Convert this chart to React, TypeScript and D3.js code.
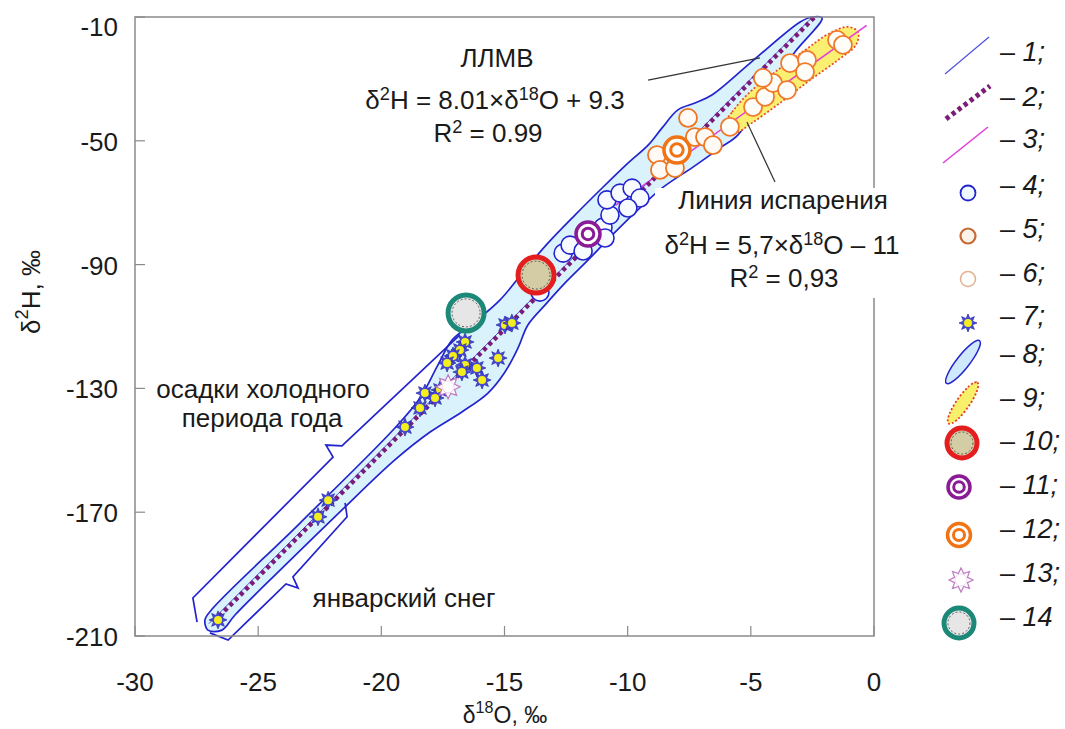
import React from "react";
import * as d3 from "d3";

// axis ticks
const xTicks = [-30, -25, -20, -15, -10, -5, 0];
const yTicks = [-10, -50, -90, -130, -170, -210];

// 4 - blue circles [δ18O, δ2H]
const series4 = [
  [-13.56, -98.9], [-12.62, -86.3], [-12.34, -83.7], [-11.81, -85.6], [-11.0, -77.9],
  [-10.92, -81.4], [-10.72, -74.0], [-10.84, -69.1], [-10.31, -66.9], [-9.82, -65.3],
  [-9.5, -68.5], [-9.99, -71.7],
];
// 5 - orange circles (lower cluster)
const series5 = [
  [-7.55, -42.6], [-8.81, -54.6], [-8.69, -59.4], [-8.08, -58.8], [-7.27, -48.8],
  [-6.86, -48.8], [-6.54, -51.4],
];
// 6 - pale orange circles (evaporated)
const series6 = [
  [-5.85, -45.5], [-4.91, -39.1], [-4.42, -35.8], [-4.1, -31.3], [-4.51, -29.7],
  [-3.53, -33.6], [-3.41, -24.9], [-2.72, -23.9], [-2.8, -27.8], [-1.5, -17.4], [-1.26, -19.0],
];
// 7 - stars (winter precipitation)
const series7 = [
  [-14.98, -109.5], [-14.7, -108.9], [-16.6, -115.0], [-16.81, -117.6], [-17.09, -119.5],
  [-17.33, -121.8], [-16.6, -122.4], [-16.12, -123.4], [-16.73, -124.7], [-15.26, -120.2],
  [-15.91, -127.3], [-17.62, -130.5], [-18.23, -131.5], [-17.82, -133.1], [-18.43, -136.3],
  [-19.04, -142.5], [-22.16, -166.1], [-22.57, -171.5], [-26.63, -204.8],
];
// single samples 10-14
const point10 = [-13.72, -93.4];
const point11 = [-11.61, -80.1];
const point12 = [-8.0, -53.0];
const point13 = [-17.29, -129.5];
const point14 = [-16.56, -105.6];

// 8 - envelope outline
const envelope8 = [
  [-27.04, -208.1], [-27.16, -204.8], [-26.87, -201.3], [-23.3, -173.5], [-19.45, -142.8],
  [-18.43, -133.1], [-17.7, -122.4], [-17.13, -114.4], [-16.2, -108.5], [-15.18, -101.4],
  [-14.17, -91.7], [-13.23, -83.0], [-12.14, -74.0], [-11.12, -65.9], [-9.99, -57.2],
  [-9.17, -51.4], [-8.61, -45.9], [-7.96, -40.0], [-7.27, -37.8], [-6.58, -35.2],
  [-5.03, -24.9], [-3.0, -11.6], [-2.52, -10.0], [-2.11, -10.3], [-3.21, -21.3],
  [-4.42, -34.2], [-5.52, -48.1], [-6.25, -52.3], [-7.35, -58.5], [-8.61, -65.3],
  [-9.5, -71.7], [-10.51, -79.5], [-11.53, -87.9], [-12.54, -95.9], [-13.36, -103.1],
  [-14.05, -109.5], [-14.45, -116.9], [-14.98, -124.7], [-15.67, -131.5], [-16.73, -137.6],
  [-18.02, -144.1], [-19.45, -153.1], [-21.68, -169.9], [-24.11, -188.7], [-25.94, -203.2],
  [-26.47, -208.1],
];
// 9 - evaporated waters outline
const ellipse9 = [
  [-6.17, -45.9], [-5.76, -40.7], [-5.03, -34.2], [-4.02, -27.8], [-2.8, -20.7],
  [-1.79, -15.2], [-1.06, -13.2], [-0.65, -14.8], [-0.73, -19.0], [-1.46, -23.9],
  [-2.6, -30.4], [-3.82, -37.8], [-4.95, -44.2], [-5.64, -47.5],
];

// brackets and leaders
const bracketCold = [
  [-27.48, -205.5], [-27.65, -197.7], [-21.96, -152.2], [-22.25, -148.3], [-21.6, -148.6], [-16.81, -112.7],
];
const bracketSnow = [
  [-26.96, -209.0], [-26.22, -211.3], [-23.87, -193.2], [-23.38, -194.5], [-23.59, -190.9],
  [-21.39, -171.5], [-21.47, -167.0],
];
const leaderLMWL = [[-9.17, -30.4], [-4.63, -23.2]];
const leaderEvap = [[-5.16, -43.9], [-4.02, -63.3]];

// regression lines: slope, intercept, x range
const gmwl = { a: 8, b: 10, from: -27, to: -2.5 };
const lmwl = { a: 8.01, b: 9.3, from: -26.8, to: -2.41 };
const evap = { a: 5.7, b: -11, from: -10.5, to: -0.3 };

const legendLabels = ["1", "2", "3", "4", "5", "6", "7", "8", "9", "10", "11", "12", "13", "14"];

const F = '"Liberation Sans", Arial, Helvetica, sans-serif';
const BLUE = "#2424cf";
const FS = 27;

const starPath = (n: number, r1: number, r2: number) => {
  const pts = d3.range(2 * n).map((i) => {
    const a = (i * Math.PI) / n - Math.PI / 2;
    const r = i % 2 === 0 ? r1 : r2;
    return [r * Math.cos(a), r * Math.sin(a)] as [number, number];
  });
  return d3.line().curve(d3.curveLinearClosed)(pts) || "";
};

const Circle4 = ({ cx, cy }: any) => (
  <circle cx={cx} cy={cy} r={9} fill="#f7fbff" stroke={BLUE} strokeWidth={1.6} />
);
const Circle5 = ({ cx, cy, c = "#ef7420", f = "#fffaf6" }: any) => (
  <circle cx={cx} cy={cy} r={9} fill={f} stroke={c} strokeWidth={1.8} />
);
const Star7 = ({ cx, cy }: any) => (
  <g transform={`translate(${cx},${cy})`}>
    <path d={starPath(8, 9, 4.8)} fill="#4a4ad8" stroke="#2a2aa8" strokeWidth={0.7} />
    <circle r={4} fill="#f3ef1c" />
  </g>
);
const Star13 = ({ cx, cy }: any) => (
  <g transform={`translate(${cx},${cy})`}>
    <path d={starPath(8, 12, 7)} fill="#fff" stroke="#c07ac2" strokeWidth={1.2} />
    <circle r={6} fill="#fff" stroke="#e0b8e0" strokeWidth={0.6} />
  </g>
);
const Big = ({ cx, cy, r, ring, fill }: any) => (
  <g>
    <circle cx={cx} cy={cy} r={r} fill={fill} stroke={ring} strokeWidth={5} />
    <circle cx={cx} cy={cy} r={r - 4} fill="none" stroke="#3a3a3a" strokeWidth={0.8} strokeDasharray="2 2" />
  </g>
);
const Double = ({ cx, cy, r, c }: any) => (
  <g>
    <circle cx={cx} cy={cy} r={r} fill="#fff" stroke={c} strokeWidth={3.5} />
    <circle cx={cx} cy={cy} r={r * 0.48} fill="#fff" stroke={c} strokeWidth={3} />
  </g>
);

const Sup = ({ base, sup, tail, size }: any) => (
  <>
    {base}
    <tspan dy={-size * 0.36} fontSize={size * 0.7}>{sup}</tspan>
    <tspan dy={size * 0.36}>{tail}</tspan>
  </>
);

export default function App() {
  const W = 1065, H = 729;
  const L = 135, R = 874, T = 17, B = 636;
  const x = d3.scaleLinear().domain([-30, 0]).range([L, R]);
  const y = d3.scaleLinear().domain([-210, -10]).range([B, T]);
  const poly = d3.line<number[]>().x((d) => x(d[0])).y((d) => y(d[1]));
  const smooth = d3
    .line<number[]>()
    .x((d) => x(d[0]))
    .y((d) => y(d[1]))
    .curve(d3.curveCatmullRomClosed.alpha(0.5));
  const reg = (l: any) => poly([[l.from, l.a * l.from + l.b], [l.to, l.a * l.to + l.b]]) || "";

  const legendY = [52, 97, 139, 185, 229, 273, 316, 354, 398, 441, 485, 529, 573, 617];
  const lx = 966;

  const legendSymbol = (i: number, cy: number) => {
    switch (i) {
      case 0:
        return <line x1={945} y1={cy + 22} x2={989} y2={cy - 15} stroke="#5050e0" strokeWidth={1.2} />;
      case 1:
        return <line x1={946} y1={cy + 22} x2={990} y2={cy - 11} stroke="#7a1c78" strokeWidth={5} strokeDasharray="4 3.5" />;
      case 2:
        return <line x1={943} y1={cy + 24} x2={988} y2={cy - 12} stroke="#e040d8" strokeWidth={1.6} />;
      case 3:
        return <circle cx={lx + 2} cy={cy + 8} r={7.5} fill="#eef8ff" stroke={BLUE} strokeWidth={1.8} />;
      case 4:
        return <circle cx={lx + 2} cy={cy + 7} r={7.5} fill="#fbf3ea" stroke="#c66a34" strokeWidth={2.2} />;
      case 5:
        return <circle cx={lx + 2} cy={cy + 6} r={7.5} fill="#fff" stroke="#e2b090" strokeWidth={1.5} />;
      case 6:
        return <Star7 cx={lx + 2} cy={cy + 7} />;
      case 7:
        return <ellipse cx={lx - 3} cy={cy + 8} rx={27} ry={6.5} transform={`rotate(-52 ${lx - 3} ${cy + 8})`} fill="#cfe8fb" stroke={BLUE} strokeWidth={1.5} />;
      case 8:
        return <ellipse cx={lx - 3} cy={cy + 5} rx={25} ry={6.5} transform={`rotate(-55 ${lx - 3} ${cy + 5})`} fill="#f8ef6a" stroke="#e53a26" strokeWidth={1.8} strokeDasharray="2 2" />;
      case 9:
        return <Big cx={lx - 4} cy={cy + 2} r={15} ring="#e41e1e" fill="#d3cca4" />;
      case 10:
        return <Double cx={lx - 7} cy={cy + 2} r={11} c="#8a1a96" />;
      case 11:
        return <Double cx={lx - 7} cy={cy + 6} r={11.5} c="#f07414" />;
      case 12:
        return <Star13 cx={lx - 5} cy={cy + 7} />;
      default:
        return <Big cx={lx - 7} cy={cy + 6} r={15} ring="#1b8878" fill="#e6e6e6" />;
    }
  };

  return (
    <svg width={W} height={H} style={{ position: "absolute", left: 0, top: 0, background: "#fff" }} fontFamily={F}>
      <rect width={W} height={H} fill="#fff" />
      <defs>
        <clipPath id="plot">
          <rect x={L} y={T} width={R - L} height={B - T + 10} />
        </clipPath>
      </defs>

      {/* 8 - envelope */}
      <path d={smooth(envelope8) || ""} fill="#d9f2fb" stroke={BLUE} strokeWidth={1.7} />
      {/* 9 - evaporated */}
      <path d={smooth(ellipse9) || ""} fill="#fbef72" stroke="#e9472a" strokeWidth={1.7} strokeDasharray="2 2" />

      {/* brackets */}
      <path d={poly(bracketCold) || ""} fill="none" stroke={BLUE} strokeWidth={1.7} />
      <path d={poly(bracketSnow) || ""} fill="none" stroke={BLUE} strokeWidth={1.7} />

      {/* regression lines */}
      <g clipPath="url(#plot)">
        <path d={reg(gmwl)} stroke="#5050e0" strokeWidth={1} />
        <path d={reg(evap)} stroke="#e040d8" strokeWidth={1.6} />
        <path d={reg(lmwl)} stroke="#7a1c78" strokeWidth={4.5} strokeDasharray="4 3.5" />
      </g>

      {/* markers */}
      {series4.map((d, i) => <Circle4 key={"a" + i} cx={x(d[0])} cy={y(d[1])} />)}
      {series5.map((d, i) => <Circle5 key={"b" + i} cx={x(d[0])} cy={y(d[1])} />)}
      {series6.map((d, i) => <Circle5 key={"c" + i} cx={x(d[0])} cy={y(d[1])} c="#f07a2c" f="#fffdf8" />)}
      {series7.map((d, i) => <Star7 key={"d" + i} cx={x(d[0])} cy={y(d[1])} />)}
      <Star13 cx={x(point13[0])} cy={y(point13[1])} />
      <Double cx={x(point11[0])} cy={y(point11[1])} r={12} c="#8a1a96" />
      <Double cx={x(point12[0])} cy={y(point12[1])} r={13} c="#f07414" />
      <Big cx={x(point10[0])} cy={y(point10[1])} r={18} ring="#e41e1e" fill="#d3cca4" />
      <Big cx={x(point14[0])} cy={y(point14[1])} r={18} ring="#1b8878" fill="#e6e6e6" />

      {/* frame and ticks */}
      <rect x={L} y={T} width={R - L} height={B - T} fill="none" stroke="#8a8a8a" strokeWidth={1.5} />
      {xTicks.map((t) => (
        <g key={"x" + t}>
          <line x1={x(t)} x2={x(t)} y1={B} y2={B - 10} stroke="#8a8a8a" strokeWidth={1.2} />
          <text x={x(t)} y={682} textAnchor="middle" dominantBaseline="central" fontSize={FS - 1} fill="#1a1a1a">{t}</text>
        </g>
      ))}
      {yTicks.map((t) => (
        <g key={"y" + t}>
          <line x1={L} x2={L + 10} y1={y(t)} y2={y(t)} stroke="#8a8a8a" strokeWidth={1.2} />
          <text x={118} y={t === -10 ? 27 : y(t) + 1} textAnchor="end" dominantBaseline="central" fontSize={FS - 1} fill="#1a1a1a">{t}</text>
        </g>
      ))}
      <text x={505} y={715} textAnchor="middle" dominantBaseline="central" fontSize={23} fill="#1a1a1a">
        <Sup base="δ" sup="18" tail="O, ‰" size={23} />
      </text>
      <text transform="translate(31,292) rotate(-90)" textAnchor="middle" dominantBaseline="central" fontSize={FS - 1} fill="#1a1a1a">
        <Sup base="δ" sup="2" tail="H, ‰" size={FS - 1} />
      </text>

      {/* leaders */}
      <path d={poly(leaderLMWL) || ""} stroke="#333" strokeWidth={1.2} />
      <path d={poly(leaderEvap) || ""} stroke="#333" strokeWidth={1.2} />

      {/* annotations */}
      <g fontSize={FS - 1} fill="#1a1a1a" textAnchor="middle">
        <text x={497} y={67}>ЛЛМВ</text>
        <text x={495} y={109}>
          <Sup base="δ" sup="2" tail="H = 8.01×δ" size={FS - 1} />
          <tspan dy={-9.4} fontSize={18}>18</tspan>
          <tspan dy={9.4}>O + 9.3</tspan>
        </text>
        <text x={488} y={142}>
          <Sup base="R" sup="2" tail=" = 0.99" size={FS - 1} />
        </text>
      </g>
      <rect x={655} y={188} width={258} height={110} fill="#fff" />
      <g fontSize={FS - 1} fill="#1a1a1a" textAnchor="middle">
        <text x={783} y={209}>Линия испарения</text>
        <text x={782} y={254}>
          <Sup base="δ" sup="2" tail="H = 5,7×δ" size={FS - 1} />
          <tspan dy={-9.4} fontSize={18}>18</tspan>
          <tspan dy={9.4}>O – 11</tspan>
        </text>
        <text x={784} y={287}>
          <Sup base="R" sup="2" tail=" = 0,93" size={FS - 1} />
        </text>
      </g>
      <g fontSize={FS - 1} fill="#1a1a1a" textAnchor="middle">
        <text x={263} y={398}>осадки холодного</text>
        <text x={262} y={427}>периода года</text>
        <text x={404} y={607}>январский снег</text>
      </g>

      {/* legend */}
      {legendLabels.map((lab, i) => (
        <g key={"l" + i}>
          {legendSymbol(i, legendY[i])}
          <text x={1000} y={legendY[i]} dominantBaseline="central" fontSize={FS} fill="#1a1a1a">
            – <tspan fontStyle="italic">{lab}{i < 13 ? ";" : ""}</tspan>
          </text>
        </g>
      ))}
    </svg>
  );
}
